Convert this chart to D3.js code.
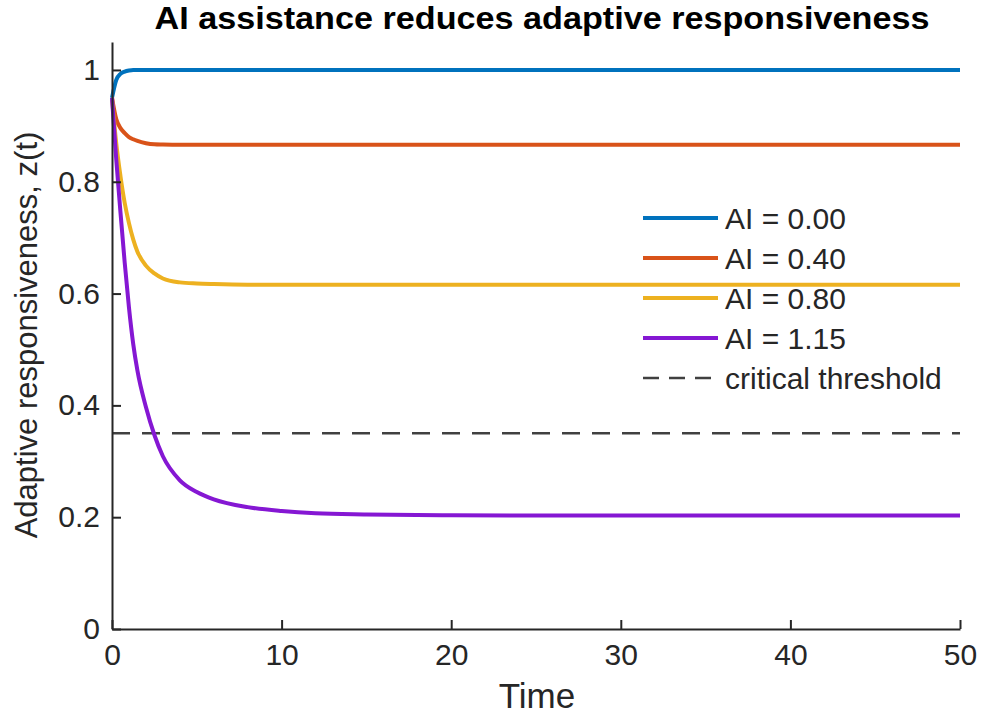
<!DOCTYPE html>
<html><head><meta charset="utf-8">
<script src="https://cdn.jsdelivr.net/npm/d3@7"></script>
<style>body{margin:0;background:#fff;} svg{display:block;font-family:"Liberation Sans",Arial,Helvetica,sans-serif;}</style>
</head><body>
<svg id="chart" width="982" height="719"></svg>
<script>
const title = "AI assistance reduces adaptive responsiveness";
const xLabel = "Time";
const yLabel = "Adaptive responsiveness, z(t)";
const time = [0, 0.25, 0.5, 0.75, 1, 1.25, 1.5, 2, 2.5, 3, 4, 5, 6, 8, 10, 12, 15, 20, 30, 40, 50];
const seriesNames = ["AI = 0.00", "AI = 0.40", "AI = 0.80", "AI = 1.15"];
const seriesColors = ["#0072BD", "#D95319", "#EDB120", "#8517D3"];
const ai000 = [0.95, 0.982, 0.993, 0.997, 0.999, 1.0, 1.0, 1.0, 1.0, 1.0, 1.0, 1.0, 1.0, 1.0, 1.0, 1.0, 1.0, 1.0, 1.0, 1.0, 1.0];
const ai040 = [0.95, 0.912, 0.896, 0.887, 0.880, 0.876, 0.873, 0.869, 0.867, 0.8665, 0.866, 0.866, 0.866, 0.866, 0.866, 0.866, 0.866, 0.866, 0.866, 0.866, 0.866];
const ai080 = [0.95, 0.869, 0.810, 0.762, 0.726, 0.697, 0.675, 0.650, 0.636, 0.627, 0.620, 0.618, 0.617, 0.616, 0.616, 0.616, 0.616, 0.616, 0.616, 0.616, 0.616];
const ai115 = [0.95, 0.84, 0.745, 0.655, 0.575, 0.51, 0.462, 0.397, 0.347, 0.309, 0.266, 0.245, 0.232, 0.218, 0.211, 0.207, 0.205, 0.2035, 0.203, 0.203, 0.203];
const threshold = 0.35;
const thresholdLabel = "critical threshold";
const xTicks = [0, 10, 20, 30, 40, 50];
const yTicks = [0, 0.2, 0.4, 0.6, 0.8, 1];
const xDomain = [0, 50];
const yDomain = [0, 1.05];

const svg = d3.select("#chart");
const m = {left: 112, right: 960, top: 42, bottom: 629};
const x = d3.scaleLinear().domain(xDomain).range([m.left, m.right]);
const y = d3.scaleLinear().domain(yDomain).range([m.bottom, m.top]);
const axisColor = "#262626";

// threshold
svg.append("line")
  .attr("x1", x(xDomain[0])).attr("x2", x(xDomain[1]))
  .attr("y1", y(threshold)).attr("y2", y(threshold))
  .attr("stroke", "#404040").attr("stroke-width", 2.5)
  .attr("stroke-dasharray", "18,12");

const allSeries = [ai000, ai040, ai080, ai115];
const line = d3.line().x((d, i) => x(time[i])).y(d => y(d)).curve(d3.curveMonotoneX);
allSeries.forEach((s, k) => {
  svg.append("path").datum(s).attr("d", line)
    .attr("fill", "none").attr("stroke", seriesColors[k]).attr("stroke-width", 4)
    .attr("stroke-linejoin", "round");
});

// axes
const xAxis = d3.axisBottom(x).tickValues(xTicks).tickFormat(d3.format("d")).tickSizeInner(-9).tickSizeOuter(0).tickPadding(15);
const yAxis = d3.axisLeft(y).tickValues(yTicks).tickFormat(d => d === 0 || d === 1 ? String(d) : d.toFixed(1)).tickSizeInner(-9).tickSizeOuter(0).tickPadding(12);
const gx = svg.append("g").attr("transform", `translate(0,${m.bottom})`).call(xAxis);
const gy = svg.append("g").attr("transform", `translate(${m.left},0)`).call(yAxis);
[gx, gy].forEach(g => {
  g.select(".domain").attr("stroke", axisColor).attr("stroke-width", 2);
  g.selectAll(".tick line").attr("stroke", axisColor).attr("stroke-width", 2);
  g.selectAll(".tick text").attr("fill", axisColor).attr("font-size", 30).attr("font-family", "Liberation Sans, Arial, sans-serif");
});
gx.selectAll(".tick text").attr("dy", "0.71em");

svg.append("text").attr("x", 537).attr("y", 708)
  .attr("text-anchor", "middle").attr("font-size", 35).attr("fill", axisColor).text(xLabel);
svg.append("text").attr("transform", `translate(37,${335}) rotate(-90)`)
  .attr("text-anchor", "middle").attr("font-size", 31).attr("fill", axisColor).text(yLabel);
svg.append("text").attr("x", 542).attr("y", 29)
  .attr("text-anchor", "middle").attr("font-size", 31).attr("font-weight", "bold").attr("fill", "#000")
  .attr("textLength", 775).attr("lengthAdjust", "spacingAndGlyphs").text(title);

// legend
const legendItems = seriesNames.map((n, k) => ({name: n, color: seriesColors[k], dash: null}))
  .concat([{name: thresholdLabel, color: "#404040", dash: "16,10"}]);
const lg = svg.append("g");
legendItems.forEach((it, i) => {
  const yy = 218 + i * 40;
  lg.append("line").attr("x1", 643).attr("x2", 718).attr("y1", yy).attr("y2", yy)
    .attr("stroke", it.color).attr("stroke-width", it.dash ? 2.5 : 4)
    .attr("stroke-dasharray", it.dash);
  lg.append("text").attr("x", 725).attr("y", yy).attr("dy", "0.35em")
    .attr("font-size", 30).attr("fill", axisColor).text(it.name);
});
</script>
</body></html>
